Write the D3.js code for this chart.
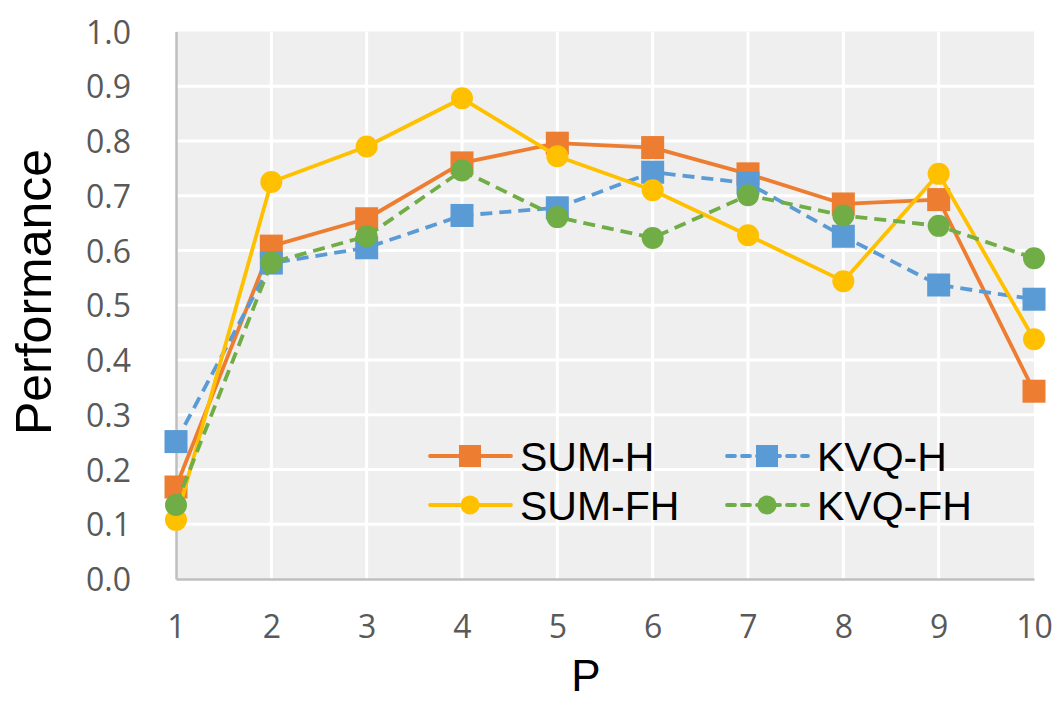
<!DOCTYPE html>
<html><head><meta charset="utf-8">
<script src="https://cdn.jsdelivr.net/npm/d3@7"></script>
<style>body{margin:0;background:#fff}svg{display:block}</style>
</head><body>
<svg id="c" width="1057" height="702"></svg>
<script>
const categories = [1,2,3,4,5,6,7,8,9,10];
const yTicks = [0,0.1,0.2,0.3,0.4,0.5,0.6,0.7,0.8,0.9,1.0];
const sumH  = [0.168,0.608,0.658,0.760,0.796,0.788,0.740,0.685,0.693,0.343];
const kvqH  = [0.251,0.577,0.605,0.664,0.678,0.743,0.723,0.626,0.537,0.511];
const sumFH = [0.108,0.725,0.790,0.878,0.772,0.710,0.628,0.544,0.740,0.438];
const kvqFH = [0.135,0.578,0.626,0.746,0.661,0.623,0.701,0.664,0.645,0.586];
const seriesNames = ["SUM-H","KVQ-H","SUM-FH","KVQ-FH"];

const series = [
  {name:seriesNames[0], values:sumH,  color:"#ED7D31", dash:null, marker:"square"},
  {name:seriesNames[1], values:kvqH,  color:"#5B9BD5", dash:"12,7", marker:"square"},
  {name:seriesNames[2], values:sumFH, color:"#FFC000", dash:null, marker:"circle"},
  {name:seriesNames[3], values:kvqFH, color:"#70AD47", dash:"12,7", marker:"circle"}
];

const svg = d3.select("#c");
const L=176, R=1034, T=31.5, B=579;
const x = d3.scaleLinear().domain([1,10]).range([L,R]);
const y = d3.scaleLinear().domain([0,1]).range([B,T]);
const tickFont = "'Open Sans','Noto Sans',sans-serif";
const mainFont = "'Liberation Sans',Arial,sans-serif";

svg.append("rect").attr("x",L).attr("y",T).attr("width",R-L).attr("height",B-T).attr("fill","#efefef");

// grid
svg.append("g").selectAll("line").data(yTicks.slice(1,-1)).join("line")
  .attr("x1",L).attr("x2",R).attr("y1",d=>y(d)).attr("y2",d=>y(d))
  .attr("stroke","#fff").attr("stroke-width",3);
svg.append("g").selectAll("line").data(categories.slice(1,-1)).join("line")
  .attr("y1",T).attr("y2",B).attr("x1",d=>x(d)).attr("x2",d=>x(d))
  .attr("stroke","#fff").attr("stroke-width",3);

// axes
const yAxis = svg.append("g").attr("transform",`translate(${L},0)`)
  .call(d3.axisLeft(y).tickValues(yTicks).tickFormat(d3.format(".1f")).tickSize(0).tickPadding(45));
yAxis.select(".domain").attr("stroke","#bfbfbf").attr("stroke-width",2.5);
yAxis.selectAll("text").attr("font-family",tickFont).attr("font-size",32).attr("fill","#595959").attr("dy","0.36em");

const xAxis = svg.append("g").attr("transform",`translate(0,${B})`)
  .call(d3.axisBottom(x).tickValues(categories).tickFormat(d3.format("d")).tickSize(0));
xAxis.select(".domain").attr("stroke","#bfbfbf").attr("stroke-width",2.5);
xAxis.selectAll("text").attr("font-family",tickFont).attr("font-size",32).attr("fill","#595959").attr("y",59).attr("dy",0);

// titles
svg.append("text").attr("x",586).attr("y",691).attr("text-anchor","middle")
  .attr("font-family",mainFont).attr("font-size",44).attr("fill","#000").text("P");
svg.append("text").attr("transform","translate(51,292) rotate(-90)").attr("text-anchor","middle")
  .attr("font-family",mainFont).attr("font-size",50).attr("fill","#000").text("Performance");

const line = d3.line().x((d,i)=>x(categories[i])).y(d=>y(d));

function drawMarker(g, type, cx, cy, color, size){
  if(type==="square"){
    g.append("rect").attr("x",cx-size/2).attr("y",cy-size/2).attr("width",size).attr("height",size).attr("fill",color);
  } else {
    g.append("circle").attr("cx",cx).attr("cy",cy).attr("r",size/2).attr("fill",color);
  }
}

series.forEach(s=>{
  const g = svg.append("g");
  g.append("path").datum(s.values).attr("d",line).attr("fill","none")
    .attr("stroke",s.color).attr("stroke-width",3.8).attr("stroke-dasharray",s.dash)
    .attr("stroke-linejoin","round");
  s.values.forEach((v,i)=>drawMarker(g, s.marker, x(categories[i]), y(v), s.color, s.marker==="square"?23:22));
});

// legend
const legPos = [[430,456],[727,456],[430,505],[727,505]];
series.forEach((s,i)=>{
  const [lx,ly] = legPos[i];
  const g = svg.append("g");
  g.append("line").attr("x1",lx).attr("x2",lx+81).attr("y1",ly).attr("y2",ly)
    .attr("stroke",s.color).attr("stroke-width",3.8).attr("stroke-dasharray",s.dash?"8,7":null).attr("stroke-linecap","round");
  drawMarker(g, s.marker, lx+40, ly, s.color, s.marker==="square"?22:19);
  g.append("text").attr("x",lx+90).attr("y",ly+15).attr("font-family",mainFont)
    .attr("font-size",41).attr("fill","#000").text(s.name);
});
</script>
</body></html>
